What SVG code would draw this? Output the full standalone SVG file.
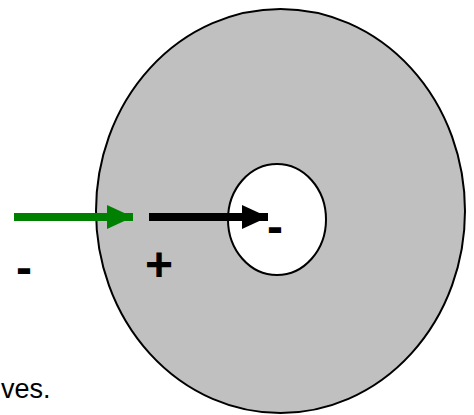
<svg xmlns="http://www.w3.org/2000/svg" width="474" height="415" viewBox="0 0 474 415">
<style>
.sign{font-family:"Liberation Sans",Arial,sans-serif;font-weight:bold;font-size:48px;fill:#000}
.cap{font-family:"Liberation Sans",Arial,sans-serif;font-size:27px;fill:#000}
</style>
<defs>
<marker id="hg" markerUnits="userSpaceOnUse" markerWidth="26" markerHeight="24" refX="26" refY="12" orient="auto"><path d="M0,0 L26,12 L0,24 Z" fill="#008000"/></marker>
<marker id="hb" markerUnits="userSpaceOnUse" markerWidth="26" markerHeight="24" refX="26" refY="12" orient="auto"><path d="M0,0 L26,12 L0,24 Z" fill="#000"/></marker>
</defs>
<g id="outer"><ellipse cx="280.5" cy="211" rx="184.5" ry="202" fill="#c0c0c0" stroke="#000" stroke-width="2"/></g>
<g id="inner"><ellipse cx="277" cy="219.5" rx="49" ry="55.5" fill="#fff" stroke="#000" stroke-width="2"/></g>
<g id="connectors">
<line x1="14" y1="217" x2="133" y2="217" stroke="#008000" stroke-width="8" marker-end="url(#hg)"/>
<line x1="149" y1="217" x2="268" y2="217" stroke="#000" stroke-width="8" marker-end="url(#hb)"/>
</g>
<g id="labels">
<text class="sign" x="16" y="284">-</text>
<text class="sign" x="145" y="281">+</text>
<text class="sign" x="267" y="243">-</text>
<text class="cap" x="1" y="398">ves.</text>
</g>
</svg>
